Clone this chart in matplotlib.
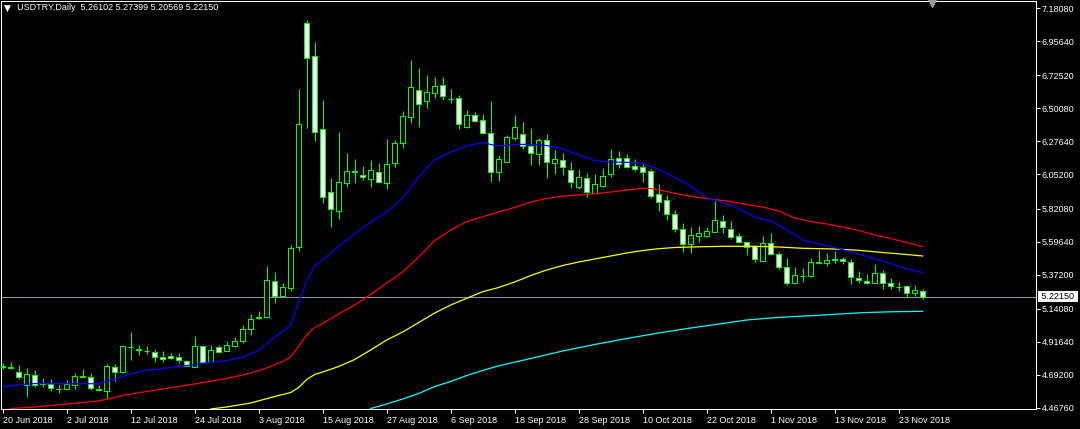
import matplotlib
matplotlib.use("Agg")
import matplotlib.pyplot as plt
from matplotlib.transforms import blended_transform_factory
import numpy as np

# USDTRY daily candles, 20 Jun 2018 .. 28 Nov 2018
opens = [4.7505, 4.7457, 4.7138, 4.6236, 4.6914, 4.6372, 4.6304, 4.5985, 4.5944, 4.6236,
         4.6758, 4.6758, 4.5944, 4.5849, 4.7477, 4.7098, 4.8793, 4.8630, 4.8542, 4.8495,
         4.8115, 4.8203, 4.8115, 4.7830, 4.7477, 4.8915, 4.7816, 4.8800, 4.8563, 4.8895,
         4.9187, 5.0001, 5.0747, 5.0869, 5.3290, 5.2273, 5.2836, 5.5576, 7.0770, 6.8572,
         6.3580, 5.9348, 5.8018, 5.9917, 6.0684, 6.0480, 6.0189, 6.0663, 5.9917, 6.1315,
         6.2630, 6.4435, 6.6246, 6.5520, 6.6063, 6.6565, 6.5669, 6.5683, 6.3757, 6.4550,
         6.4211, 6.3350, 6.0704, 6.1383, 6.3010, 6.3261, 6.2468, 6.1884, 6.2854, 6.1274,
         6.1498, 6.0820, 5.9687, 6.0256, 5.9280, 5.9755, 6.0528, 6.1620, 6.1613, 6.1111,
         6.1003, 6.0752, 5.9192, 5.8785, 5.7815, 5.6818, 5.5800, 5.6363, 5.6343, 5.6634,
         5.7360, 5.6818, 5.6343, 5.5915, 5.5664, 5.4667, 5.5848, 5.5101, 5.4220, 5.3134,
         5.3609, 5.3630, 5.4532, 5.4491, 5.4735, 5.4762, 5.4559, 5.3474, 5.3311, 5.3134,
         5.3813, 5.3134, 5.2917, 5.2951, 5.2456, 5.26102]
highs = [4.7762, 4.7776, 4.7593, 4.7369, 4.7254, 4.6711, 4.6623, 4.6236, 4.6575, 4.7030,
         4.7342, 4.7030, 4.6236, 4.7640, 4.7681, 4.8915, 4.9811, 4.8949, 4.8881, 4.8658,
         4.8563, 4.8386, 4.8386, 4.7932, 4.9539, 4.8929, 4.8949, 4.8983, 4.9221, 4.9492,
         5.0272, 5.1052, 5.1256, 5.4308, 5.3901, 5.3134, 5.5732, 6.6314, 7.0994, 6.9481,
         6.5568, 6.0256, 6.3397, 6.1952, 6.1566, 6.1091, 6.1498, 6.1274, 6.2902, 6.2854,
         6.4822, 6.8281, 6.7718, 6.7263, 6.7107, 6.7107, 6.6314, 6.5907, 6.4889, 6.4774,
         6.4618, 6.5500, 6.1837, 6.3194, 6.4550, 6.4055, 6.3648, 6.2970, 6.3261, 6.2176,
         6.1952, 6.1383, 6.0887, 6.0596, 6.0548, 6.0935, 6.2224, 6.2088, 6.1905, 6.1566,
         6.1274, 6.0867, 5.9870, 5.9124, 5.8106, 5.7245, 5.6933, 5.7021, 5.6933, 5.8717,
         5.7767, 5.7360, 5.6526, 5.6024, 5.5732, 5.6343, 5.6526, 5.5278, 5.4830, 5.4220,
         5.4152, 5.4830, 5.5393, 5.5169, 5.5325, 5.4898, 5.4762, 5.3969, 5.3765, 5.4444,
         5.4037, 5.3474, 5.3202, 5.3019, 5.3019, 5.27399]
lows = [4.7355, 4.7321, 4.6643, 4.5442, 4.6121, 4.6067, 4.5849, 4.5673, 4.5897, 4.5944,
        4.6745, 4.5897, 4.5849, 4.5266, 4.6507, 4.7030, 4.7952, 4.8271, 4.8318, 4.7816,
        4.7816, 4.7979, 4.7708, 4.7505, 4.7477, 4.7796, 4.7816, 4.8495, 4.8563, 4.8780,
        4.9051, 4.9648, 5.0679, 5.0869, 5.1818, 5.2239, 5.2612, 5.5325, 6.3648, 6.2787,
        5.8561, 5.6933, 5.7476, 5.9646, 5.9958, 6.0141, 5.9687, 5.9917, 5.9531, 6.1043,
        6.2332, 6.4028, 6.3757, 6.5045, 6.5724, 6.5568, 6.5344, 6.3601, 6.3689, 6.4096,
        6.3241, 6.0026, 6.0094, 6.1383, 6.2854, 6.2244, 6.1159, 6.1159, 6.0297, 6.0548,
        6.0480, 5.9578, 5.9511, 5.9008, 5.9239, 5.9687, 6.0365, 6.0989, 6.0935, 6.0772,
        6.0026, 5.8941, 5.8059, 5.7428, 5.6634, 5.5278, 5.5210, 5.5956, 5.6255, 5.6634,
        5.6567, 5.6119, 5.5888, 5.5054, 5.4599, 5.4667, 5.5054, 5.4104, 5.3019, 5.3066,
        5.3243, 5.3582, 5.4532, 5.4308, 5.4532, 5.4444, 5.3087, 5.3175, 5.3066, 5.3134,
        5.2748, 5.2748, 5.2612, 5.2225, 5.2293, 5.20569]
closes = [4.7457, 4.7389, 4.6758, 4.6982, 4.6236, 4.6304, 4.6012, 4.5944, 4.6304, 4.6847,
          4.6826, 4.6012, 4.5863, 4.7525, 4.7098, 4.8881, 4.8834, 4.8678, 4.8576, 4.8115,
          4.7979, 4.8034, 4.7932, 4.7538, 4.8915, 4.7816, 4.8630, 4.8495, 4.8936, 4.9207,
          5.0035, 5.0713, 5.0815, 5.3338, 5.2293, 5.2863, 5.5508, 6.3919, 6.8396, 6.3417,
          5.9008, 5.8154, 5.9985, 6.0731, 6.0718, 6.0324, 6.0799, 6.0026, 6.1206, 6.2630,
          6.4482, 6.6429, 6.5276, 6.6110, 6.6497, 6.5839, 6.5635, 6.3919, 6.4550, 6.4163,
          6.3309, 6.0704, 6.1566, 6.3038, 6.3716, 6.2447, 6.1952, 6.2854, 6.1383, 6.1545,
          6.1003, 5.9985, 6.0324, 5.9307, 5.9850, 6.0413, 6.1545, 6.1193, 6.1043, 6.0867,
          6.0704, 5.9076, 5.8629, 5.7815, 5.6818, 5.5800, 5.6411, 5.6526, 5.6682, 5.7428,
          5.6974, 5.6295, 5.5956, 5.5576, 5.4762, 5.5848, 5.5101, 5.4260, 5.3134, 5.3697,
          5.3650, 5.4559, 5.4599, 5.4715, 5.4769, 5.4627, 5.3541, 5.3358, 5.3134, 5.3813,
          5.3134, 5.2972, 5.2883, 5.2456, 5.2697, 5.22150]

# moving averages (bar index, value)
ma_blue_bars = [0, 4, 8, 12, 14, 16, 18, 20, 22, 24, 26, 28, 30, 32, 34, 35, 36, 37, 38, 39,
                40, 42, 44, 46, 48, 50, 52, 54, 56, 58, 60, 61, 62, 64, 66, 68, 70, 72, 74, 76,
                78, 80, 82, 84, 86, 88, 90, 92, 94, 96, 98, 100, 102, 104, 106, 108, 110, 112, 115]
ma_blue_vals = [4.6134, 4.6338, 4.6324, 4.6324, 4.6643, 4.6982, 4.7254, 4.7355, 4.7491, 4.7627,
                4.7762, 4.7884, 4.8135, 4.8576, 4.9492, 4.9865, 5.0306, 5.1866, 5.3290, 5.4308,
                5.4715, 5.5664, 5.6478, 5.7292, 5.7971, 5.8920, 6.0345, 6.1498, 6.2040, 6.2447,
                6.2685, 6.2549, 6.2447, 6.2549, 6.2563, 6.2481, 6.2244, 6.1837, 6.1464, 6.1362,
                6.1342, 6.1260, 6.0853, 6.0311, 5.9734, 5.8954, 5.8615, 5.8208, 5.7631, 5.7360,
                5.6784, 5.6071, 5.5800, 5.5563, 5.5257, 5.4952, 5.4647, 5.4288, 5.3853]

ma_red_bars = [1, 4, 8, 12, 14, 16, 20, 24, 28, 31, 33, 35, 36, 37, 38, 39, 40, 42, 44, 46,
               48, 50, 52, 54, 56, 58, 60, 62, 64, 66, 68, 70, 72, 74, 76, 78, 80, 81, 83, 85,
               87, 89, 91, 93, 95, 97, 99, 101, 103, 105, 107, 109, 111, 113, 115]
ma_red_vals = [4.4642, 4.4744, 4.4947, 4.5151, 4.5388, 4.5626, 4.5965, 4.6304, 4.6677, 4.7050,
               4.7389, 4.7830, 4.8135, 4.8881, 4.9628, 5.0136, 5.0408, 5.1052, 5.1662, 5.2375,
               5.3155, 5.3901, 5.4918, 5.6038, 5.6750, 5.7313, 5.7652, 5.7971, 5.8276, 5.8649,
               5.8886, 5.9056, 5.9124, 5.9212, 5.9327, 5.9463, 5.9578, 5.9565, 5.9361, 5.9124,
               5.8954, 5.8818, 5.8683, 5.8479, 5.8310, 5.8038, 5.7564, 5.7326, 5.7157, 5.6953,
               5.6716, 5.6411, 5.6173, 5.5902, 5.5617]

ma_yellow_bars = [26, 28, 31, 34, 36, 37, 38, 39, 40, 42, 44, 46, 48, 50, 52, 54, 56, 58, 60,
                  62, 64, 66, 68, 70, 72, 74, 76, 78, 80, 82, 84, 86, 90, 94, 97, 100, 104,
                  107, 110, 113, 115]
ma_yellow_vals = [4.4608, 4.4744, 4.5015, 4.5456, 4.5727, 4.6067, 4.6609, 4.6948, 4.7118, 4.7491,
                  4.7966, 4.8610, 4.9288, 4.9831, 5.0475, 5.1120, 5.1662, 5.2117, 5.2565, 5.2850,
                  5.3223, 5.3663, 5.4037, 5.4342, 5.4579, 5.4783, 5.4986, 5.5190, 5.5359, 5.5481,
                  5.5563, 5.5597, 5.5644, 5.5644, 5.5597, 5.5508, 5.5461, 5.5373, 5.5224, 5.5088,
                  5.4986]

ma_cyan_bars = [46, 48, 50, 52, 54, 56, 58, 60, 62, 66, 70, 74, 78, 82, 86, 90, 93, 96, 99,
                102, 105, 108, 111, 115]
ma_cyan_vals = [4.4642, 4.4947, 4.5286, 4.5660, 4.6134, 4.6473, 4.6880, 4.7220, 4.7538, 4.8034,
                4.8542, 4.8983, 4.9390, 4.9763, 5.0102, 5.0408, 5.0645, 5.0781, 5.0882, 5.0964,
                5.1066, 5.1154, 5.1201, 5.1235]

price_ticks = [7.18080, 6.95640, 6.72520, 6.50080, 6.27640, 6.05200, 5.82080,
               5.59640, 5.37200, 5.14080, 4.91640, 4.69200, 4.46760]
date_labels = ["20 Jun 2018", "2 Jul 2018", "12 Jul 2018", "24 Jul 2018", "3 Aug 2018",
               "15 Aug 2018", "27 Aug 2018", "6 Sep 2018", "18 Sep 2018", "28 Sep 2018",
               "10 Oct 2018", "22 Oct 2018", "1 Nov 2018", "13 Nov 2018", "23 Nov 2018"]
date_step = 8

plt.rcParams['font.family'] = ['Liberation Sans', 'DejaVu Sans']
FS = 6.5
PX = 0.72  # one pixel in points at 100 dpi

W, H = 1080, 429
fig = plt.figure(figsize=(W / 100, H / 100), dpi=100, facecolor='black')
ax = fig.add_axes([1 / W, 20 / H, 1035 / W, 408 / H], facecolor='black')

o = np.array(opens)
h = np.array(highs)
l = np.array(lows)
c = np.array(closes)
x = np.arange(len(o))
bull = c >= o

ax.vlines(x, l, h, colors='#00ff00', lw=PX, zorder=2)
body_h = np.maximum(np.abs(c - o), 0.0002)
faces = np.where(bull, 'black', 'white')
ax.bar(x, body_h, bottom=np.minimum(o, c), width=0.56, color=faces,
       edgecolor='#00ff00', linewidth=PX, zorder=3)

for bars, vals, col in [(ma_cyan_bars, ma_cyan_vals, '#00ffff'),
                        (ma_yellow_bars, ma_yellow_vals, '#ffff00'),
                        (ma_red_bars, ma_red_vals, '#ff0000'),
                        (ma_blue_bars, ma_blue_vals, '#0000ff')]:
    ax.plot(bars, vals, color=col, lw=0.9, zorder=4)

last = closes[-1]
ax.axhline(last, color='#8a9aab', lw=PX, zorder=1)

ax.set_xlim((1 - 2.7) / 8, (1036 - 2.7) / 8)
ax.set_ylim(4.4608, 7.2283)

for s in ax.spines.values():
    s.set_color('white')
    s.set_linewidth(PX)

ax.yaxis.tick_right()
ax.set_yticks(price_ticks)
ax.set_yticklabels([f"{v:.5f}" for v in price_ticks])
ax.set_xticks(np.arange(len(date_labels)) * date_step)
ax.set_xticklabels(date_labels, ha='left')
ax.tick_params(colors='white', labelcolor='white', labelsize=FS, length=4 * PX,
               width=PX, pad=2 * PX)
ax.tick_params(axis='x', pad=3 * PX)

# current price tag
tr = blended_transform_factory(ax.transAxes, ax.transData)
ax.text(1.003, last, f" {last:.5f} ", transform=tr, ha='left', va='center',
        fontsize=FS, color='black', clip_on=False, zorder=6,
        bbox=dict(boxstyle='square,pad=0.12', fc='white', ec='none'))

# header
fig.text(4 / W, 1 - 8 / H, "\u25bc", color='white', fontsize=6.5, ha='left', va='center',
         family='DejaVu Sans')
fig.text(17 / W, 1 - 8 / H,
         f"USDTRY,Daily  {opens[-1]:.5f} {highs[-1]:.5f} {lows[-1]:.5f} {closes[-1]:.5f}",
         color='white', fontsize=FS, ha='left', va='center')

# chart shift marker
ax.plot([(932 - 1) / 1035], [1.0 - 2 / 408], marker='v', ms=6, color='#9a9a9a',
        transform=ax.transAxes, clip_on=False, zorder=6)

fig.savefig("out.png", dpi=100, facecolor='black')
